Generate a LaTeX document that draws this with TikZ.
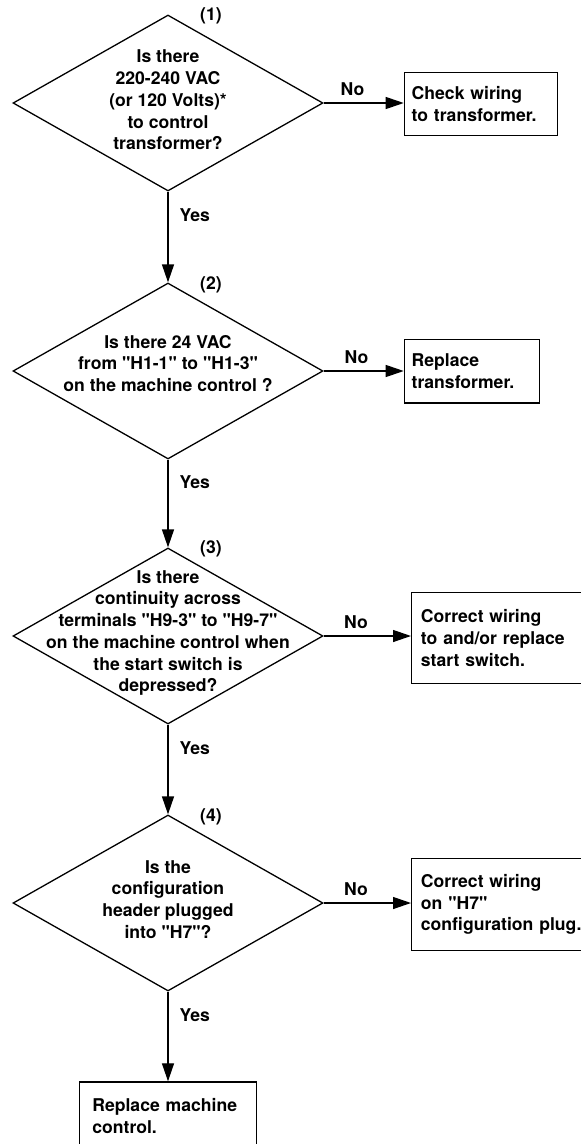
\documentclass[tikz,border=0pt]{standalone}
\usepackage{fontspec}
\newfontfamily\heros{TeX Gyre Heros}
\usetikzlibrary{arrows.meta,shapes.geometric,positioning}

\begin{document}
\begin{tikzpicture}[x=1pt, y=-1pt,
    txt/.style={font=\heros\fontsize{17.6}{21.7}\selectfont\bfseries},
    decision/.style={draw, shape=diamond, line width=1.3pt,
        minimum width=310pt, minimum height=176pt, inner sep=0pt},
    question/.style={txt, align=center, inner sep=0pt},
    action/.style={txt, draw, line width=1.3pt, anchor=north west,
        align=left, inner ysep=0pt},
    tag/.style={txt, inner sep=0pt},
    flow/.style={line width=1.3pt, -{Triangle[length=18pt,width=12pt]}}]
    \useasboundingbox (0,0) rectangle (581,1144);

    % Decisions
    \node[decision] (d1) at (168,103) {};
    \node[decision] (d2) at (168,371) {};
    \node[decision] (d3) at (168,636) {};
    \node[decision] (d4) at (168,903) {};

    \node[question] (q1) at ([yshift=3pt]d1.center)
        {Is there\\220-240 VAC\\(or 120 Volts)*\\to control\\transformer?};
    \node[question] (q2) at ([yshift=7.5pt]d2.center)
        {Is there 24 VAC\\from "H1-1" to "H1-3"\\on the machine control ?};
    \node[question] (q3) at ([yshift=3pt]d3.center)
        {Is there\\continuity across\\terminals "H9-3" to "H9-7"\\on the machine control when\\the start switch is\\depressed?};
    \node[question] (q4) at ([yshift=3.5pt]d4.center)
        {Is the\\configuration\\header plugged\\into "H7"?};

    % Step numbers
    \node[tag] (n1) at ([xshift=43pt,yshift=-1pt]d1.north) {(1)};
    \node[tag] (n2) at ([xshift=43pt,yshift=-2pt]d2.north) {(2)};
    \node[tag] (n3) at ([xshift=43pt,yshift=-1pt]d3.north) {(3)};
    \node[tag] (n4) at ([xshift=43pt,yshift=-2pt]d4.north) {(4)};

    % Actions
    \node[action, text width=138.4pt, inner xsep=7.3pt, minimum height=63.3pt]
        (b1) at (403.7,71.7) {Check wiring\\to transformer.};
    \node[action, text width=120.4pt, inner xsep=7.3pt, minimum height=63.3pt]
        (b2) at (403.7,339) {Replace\\transformer.};
    \node[action, text width=166pt, inner xsep=9.3pt, minimum height=91pt]
        (b3) at (411,591.7) {Correct wiring\\to and/or replace\\start switch.};
    \node[action, text width=166pt, inner xsep=9.3pt, minimum height=92pt]
        (b4) at (411,858) {Correct wiring\\on "H7"\\configuration plug.};
    \node[action, text width=151.3pt, inner xsep=13pt, minimum height=68pt]
        (b5) at (78.7,1081.3) {Replace machine\\control.};

    % No branches
    \draw[flow] (d1.east) -- node[tag, pos=0.36, above=6.5pt] (no1) {No} (d1.east -| b1.west);
    \draw[flow] (d2.east) -- node[tag, pos=0.41, above=6.5pt] (no2) {No} (d2.east -| b2.west);
    \draw[flow] (d3.east) -- node[tag, pos=0.37, above=6.5pt] (no3) {No} (d3.east -| b3.west);
    \draw[flow] (d4.east) -- node[tag, pos=0.37, above=6.5pt] (no4) {No} (d4.east -| b4.west);

    % Yes branches
    \draw[flow] (d1.south) -- node[tag, pos=0.26, right=11pt] (yes1) {Yes} (d2.north);
    \draw[flow] (d2.south) -- node[tag, pos=0.26, right=11pt] (yes2) {Yes} (d3.north);
    \draw[flow] (d3.south) -- node[tag, pos=0.26, right=11pt] (yes3) {Yes} (d4.north);
    \draw[flow] (d4.south) -- node[tag, pos=0.26, right=11pt] (yes4) {Yes} (d4.south |- b5.north);
\end{tikzpicture}
\end{document}
